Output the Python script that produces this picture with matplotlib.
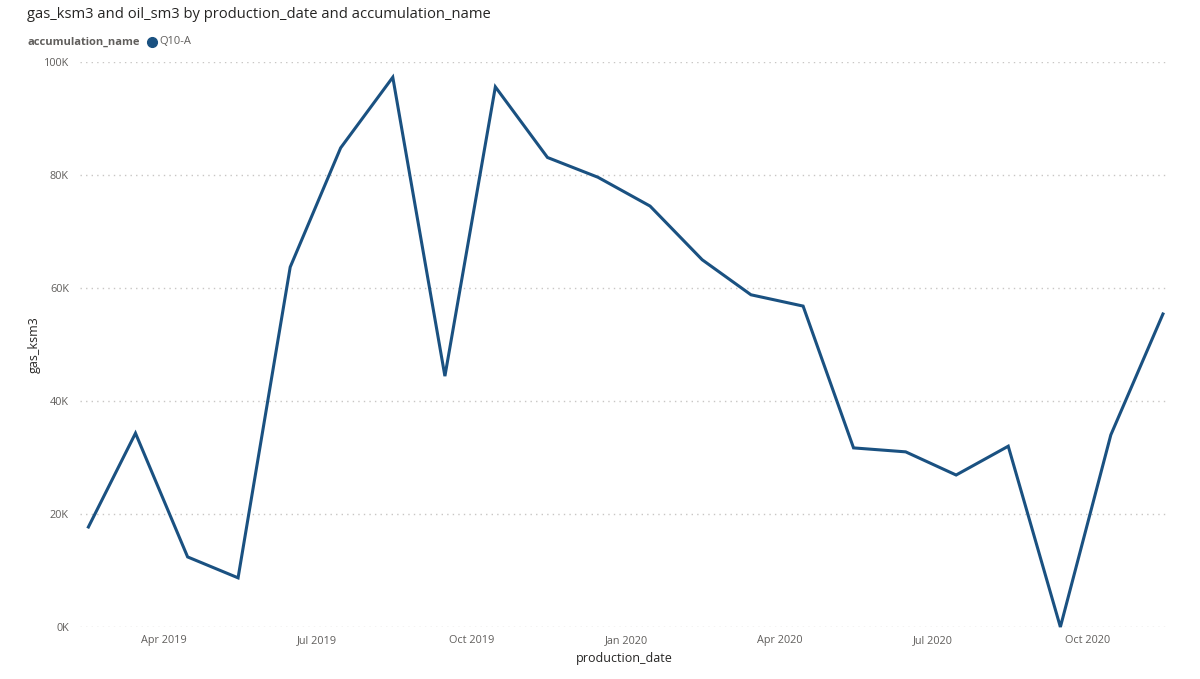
import matplotlib
matplotlib.use("Agg")
import matplotlib.pyplot as plt
import matplotlib.dates as mdates
import matplotlib.ticker as mticker
import pandas as pd

plt.rcParams['font.family'] = ['Open Sans', 'DejaVu Sans']

# data (monthly, gas_ksm3 for Q10-A)
months = ['2019-02', '2019-03', '2019-04', '2019-05', '2019-06', '2019-07',
          '2019-08', '2019-09', '2019-10', '2019-11', '2019-12', '2020-01',
          '2020-02', '2020-03', '2020-04', '2020-05', '2020-06', '2020-07',
          '2020-08', '2020-09', '2020-10', '2020-11']
gas_ksm3 = [17700, 34300, 12400, 8700, 63700, 84800, 97300, 44400, 95600, 83100, 79600,
            74500, 65000, 58800, 56800, 31700, 31000, 26900, 32000, 0, 34000, 55400]
series_name = 'Q10-A'
tick_months = ['2019-04', '2019-07', '2019-10', '2020-01', '2020-04', '2020-07', '2020-10']

line_col = '#1A5181'
grey = '#605E5C'

dates = pd.to_datetime(months) + pd.Timedelta(days=14)
ticks = pd.to_datetime(tick_months)

fig = plt.figure(figsize=(12, 6.79), dpi=100)
ax = fig.add_axes([80 / 1200, 1 - 627 / 679, 1088 / 1200, 565 / 679])

ax.plot(dates, gas_ksm3, color=line_col, linewidth=2.2, clip_on=False,
        solid_joinstyle='miter')

ax.set_ylim(0, 100000)
ax.set_xlim(dates[0] - pd.Timedelta(days=5), dates[-1] + pd.Timedelta(days=3))
ax.yaxis.set_major_locator(mticker.MultipleLocator(20000))
ax.yaxis.set_major_formatter(mticker.FuncFormatter(lambda v, p: f'{int(v / 1000)}K'))
ax.set_xticks(ticks)
ax.xaxis.set_major_formatter(mdates.DateFormatter('%b %Y'))

ax.grid(axis='y', color='#C8C6C4', linestyle=(0, (1, 3)), linewidth=1)
ax.set_axisbelow(True)
for s in ax.spines.values():
    s.set_visible(False)
ax.tick_params(length=0, labelsize=7.8, labelcolor=grey)
ax.tick_params(axis='y', pad=8)
ax.tick_params(axis='x', pad=6)

ax.set_xlabel('production_date', fontsize=9, color='#252423', labelpad=4)
ax.set_ylabel('gas_ksm3', fontsize=9, color='#252423', labelpad=2)

fig.text(27 / 1200, 1 - 15 / 679, 'gas_ksm3 and oil_sm3 by production_date and accumulation_name',
         fontsize=10.6, color='#252423', va='center', ha='left')
fig.text(27 / 1200, 1 - 42 / 679, 'accumulation_name', fontsize=8, fontweight='bold',
         color=grey, va='center', ha='left')
fig.lines.append(plt.Line2D([152 / 1200], [1 - 42 / 679], marker='o', markersize=7,
                            color=line_col, transform=fig.transFigure))
fig.text(159 / 1200, 1 - 42 / 679, series_name, fontsize=8, color=grey, va='center', ha='left')

fig.savefig('out.png', dpi=100, facecolor='white')
